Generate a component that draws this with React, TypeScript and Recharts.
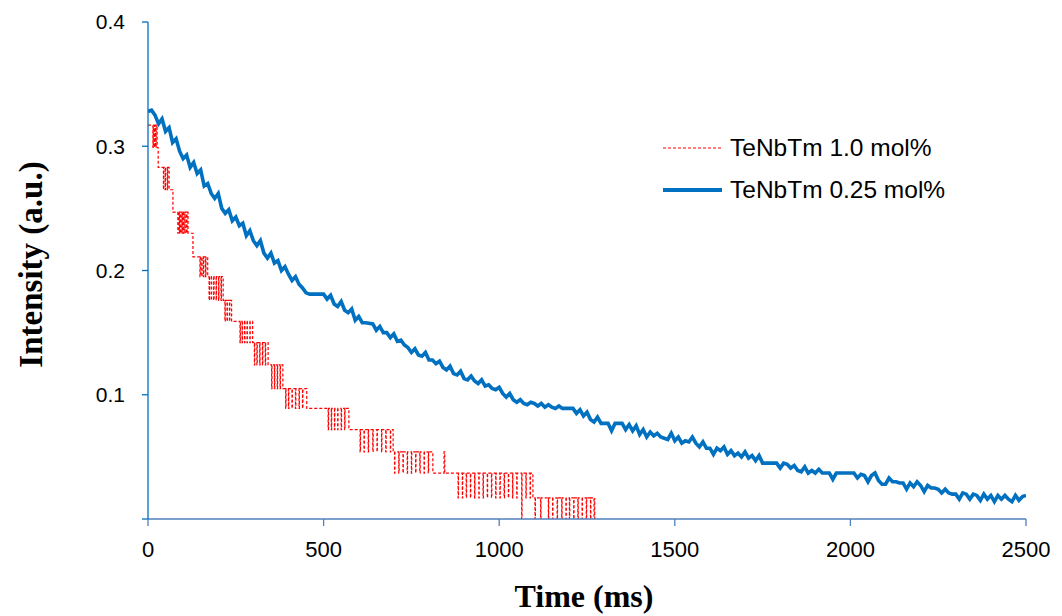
import React from 'react';
import { LineChart, Line, XAxis, YAxis, Label } from 'recharts';

// ---- Data (time in ms, intensity in a.u.) ----
const xTicks = [0, 500, 1000, 1500, 2000, 2500];
const yTicks = [0, 0.1, 0.2, 0.3, 0.4];

const seriesNames = ['TeNbTm 1.0 mol%', 'TeNbTm 0.25 mol%'];
const seriesColors = ['#FF0000', '#0070C0'];

// TeNbTm 1.0 mol% (stepwise, quantised signal)
const redSeries: [number, number][] = [
  [0, 0.317], [14, 0.299], [15, 0.317], [18, 0.299], [19, 0.317], [22, 0.299], [23, 0.317], [26, 0.299],
  [29, 0.283], [44, 0.265], [45, 0.283], [49, 0.265], [50, 0.283], [55, 0.265], [56, 0.283], [60, 0.265],
  [71, 0.247], [85, 0.23], [86, 0.247], [89, 0.23], [90, 0.247], [93, 0.23], [94, 0.247], [97, 0.23],
  [98, 0.247], [101, 0.23], [102, 0.247], [105, 0.23], [106, 0.247], [110, 0.23], [111, 0.247], [114, 0.23],
  [128, 0.211], [148, 0.195], [149, 0.211], [153, 0.195], [154, 0.211], [158, 0.195], [159, 0.211], [164, 0.195],
  [165, 0.211], [170, 0.195],
  [174, 0.176], [175, 0.195], [180, 0.176], [181, 0.195], [187, 0.176], [188, 0.195], [194, 0.176], [195, 0.195],
  [201, 0.176], [202, 0.195], [208, 0.176], [209, 0.195], [214, 0.176],
  [219, 0.159], [220, 0.176], [225, 0.159], [226, 0.176], [232, 0.159], [233, 0.176], [238, 0.159],
  [262, 0.142], [263, 0.159], [268, 0.142], [269, 0.159], [275, 0.142], [276, 0.159], [282, 0.142], [283, 0.159],
  [290, 0.142], [291, 0.159], [298, 0.142],
  [303, 0.124], [304, 0.142], [310, 0.124], [311, 0.142], [318, 0.124], [319, 0.142], [326, 0.124], [327, 0.142],
  [334, 0.124], [335, 0.142], [342, 0.124],
  [352, 0.105], [353, 0.124], [360, 0.105], [361, 0.124], [368, 0.105], [369, 0.124], [376, 0.105], [377, 0.124],
  [384, 0.105],
  [392, 0.089], [393, 0.105], [400, 0.089], [401, 0.105], [410, 0.089], [411, 0.105], [420, 0.089], [421, 0.105],
  [430, 0.089], [431, 0.105], [440, 0.089], [441, 0.105], [452, 0.089],
  [513, 0.072], [514, 0.089], [522, 0.072], [523, 0.089], [531, 0.072], [532, 0.089], [540, 0.072], [541, 0.089],
  [550, 0.072], [551, 0.089], [560, 0.072], [561, 0.089], [572, 0.072],
  [604, 0.054], [605, 0.072], [615, 0.054], [616, 0.072], [627, 0.054], [628, 0.072], [640, 0.054], [641, 0.072],
  [652, 0.054], [653, 0.072], [665, 0.054], [666, 0.072], [677, 0.054], [678, 0.072], [690, 0.054], [691, 0.072],
  [698, 0.054],
  [702, 0.037], [703, 0.054], [714, 0.037], [715, 0.054], [726, 0.037], [727, 0.054], [738, 0.037], [739, 0.054],
  [750, 0.037], [751, 0.054], [762, 0.037], [763, 0.054], [774, 0.037], [775, 0.054], [786, 0.037], [787, 0.054],
  [798, 0.037], [799, 0.054], [811, 0.037], [843, 0.054], [845, 0.037],
  [883, 0.017], [884, 0.037], [895, 0.017], [896, 0.037], [906, 0.017], [907, 0.037], [918, 0.017], [919, 0.037],
  [930, 0.017], [931, 0.037], [942, 0.017], [943, 0.037], [954, 0.017], [955, 0.037], [966, 0.017], [967, 0.037],
  [978, 0.017], [979, 0.037], [990, 0.017], [991, 0.037], [1002, 0.017], [1003, 0.037], [1014, 0.017], [1015, 0.037],
  [1026, 0.017], [1027, 0.037], [1038, 0.017], [1039, 0.037], [1050, 0.017], [1051, 0.037], [1064, 0], [1065, 0.037],
  [1076, 0.017], [1077, 0.037], [1088, 0.017], [1089, 0.037], [1096, 0.017],
  [1102, 0], [1103, 0.017], [1118, 0], [1119, 0.017], [1140, 0], [1141, 0.017], [1152, 0], [1153, 0.017],
  [1165, 0], [1166, 0.017], [1178, 0], [1179, 0.017], [1190, 0], [1191, 0.017], [1200, 0], [1201, 0.017],
  [1212, 0], [1213, 0.017], [1224, 0], [1225, 0.017], [1236, 0], [1237, 0.017], [1248, 0], [1249, 0.017],
  [1260, 0], [1261, 0.017], [1270, 0], [1272, 0.017],
];

// TeNbTm 0.25 mol% (noisy decay)
const blueSeries: [number, number][] = [
  [0, 0.328], [10, 0.329], [20, 0.325], [30, 0.318], [40, 0.322], [50, 0.312], [60, 0.315], [70, 0.303],
  [80, 0.306], [90, 0.296], [100, 0.29], [110, 0.293], [120, 0.283], [130, 0.287], [140, 0.278], [150, 0.281],
  [160, 0.268], [170, 0.27], [180, 0.262], [190, 0.258], [200, 0.262], [210, 0.25], [220, 0.246], [230, 0.249],
  [240, 0.24], [250, 0.243], [260, 0.236], [270, 0.238], [280, 0.228], [290, 0.232], [300, 0.224], [310, 0.22],
  [320, 0.224], [330, 0.214], [340, 0.21], [350, 0.214], [360, 0.206], [370, 0.208], [380, 0.2], [390, 0.203],
  [400, 0.197], [410, 0.192], [420, 0.195], [430, 0.189], [440, 0.186], [450, 0.182], [460, 0.181], [480, 0.181],
  [500, 0.181], [510, 0.177], [520, 0.18], [530, 0.173], [540, 0.171], [550, 0.175], [560, 0.168], [570, 0.166],
  [580, 0.169], [590, 0.16], [600, 0.163], [610, 0.158], [620, 0.158], [640, 0.157], [650, 0.152], [660, 0.155],
  [670, 0.15], [680, 0.15], [690, 0.146], [700, 0.149], [710, 0.143], [720, 0.144], [730, 0.14], [740, 0.138],
  [750, 0.134], [760, 0.137], [770, 0.132], [780, 0.131], [790, 0.134], [800, 0.128], [810, 0.128], [820, 0.125],
  [830, 0.127], [840, 0.122], [850, 0.12], [860, 0.123], [870, 0.117], [880, 0.116], [890, 0.119], [900, 0.113],
  [910, 0.112], [920, 0.115], [930, 0.111], [940, 0.109], [950, 0.112], [960, 0.107], [970, 0.108], [980, 0.105],
  [990, 0.104], [1000, 0.106], [1010, 0.101], [1020, 0.098], [1030, 0.101], [1040, 0.096], [1050, 0.094], [1060, 0.096],
  [1070, 0.093], [1080, 0.092], [1090, 0.094], [1100, 0.093], [1110, 0.091], [1120, 0.093], [1130, 0.09], [1140, 0.092],
  [1150, 0.09], [1160, 0.089], [1170, 0.091], [1180, 0.089], [1190, 0.089], [1200, 0.089], [1210, 0.089], [1220, 0.085],
  [1230, 0.088], [1240, 0.083], [1250, 0.086], [1260, 0.08], [1270, 0.078], [1280, 0.082], [1290, 0.077], [1300, 0.077],
  [1310, 0.077], [1320, 0.071], [1330, 0.077], [1340, 0.077], [1350, 0.077], [1360, 0.072], [1370, 0.076], [1380, 0.071],
  [1390, 0.075], [1400, 0.068], [1410, 0.072], [1420, 0.066], [1430, 0.07], [1440, 0.067], [1450, 0.069], [1460, 0.066],
  [1470, 0.065], [1480, 0.064], [1490, 0.069], [1500, 0.063], [1510, 0.066], [1520, 0.061], [1530, 0.063], [1540, 0.062],
  [1550, 0.066], [1560, 0.061], [1570, 0.058], [1580, 0.062], [1590, 0.057], [1600, 0.057], [1610, 0.052], [1620, 0.057],
  [1630, 0.055], [1640, 0.058], [1650, 0.052], [1660, 0.055], [1670, 0.051], [1680, 0.053], [1690, 0.05], [1700, 0.054],
  [1710, 0.049], [1720, 0.051], [1730, 0.047], [1740, 0.051], [1750, 0.045], [1760, 0.045], [1780, 0.045], [1790, 0.045],
  [1800, 0.041], [1810, 0.045], [1820, 0.044], [1830, 0.041], [1840, 0.043], [1850, 0.039], [1860, 0.038], [1870, 0.042],
  [1880, 0.037], [1890, 0.039], [1900, 0.037], [1910, 0.04], [1920, 0.037], [1930, 0.037], [1940, 0.037], [1950, 0.032],
  [1960, 0.037], [1980, 0.037], [2000, 0.037], [2010, 0.037], [2020, 0.033], [2030, 0.036], [2040, 0.035], [2050, 0.03],
  [2060, 0.035], [2070, 0.037], [2080, 0.031], [2090, 0.028], [2100, 0.028], [2110, 0.033], [2120, 0.03], [2130, 0.03],
  [2140, 0.029], [2150, 0.029], [2160, 0.024], [2170, 0.029], [2180, 0.026], [2190, 0.03], [2200, 0.027], [2210, 0.022],
  [2220, 0.027], [2230, 0.025], [2240, 0.025], [2250, 0.024], [2260, 0.021], [2270, 0.024], [2280, 0.021], [2290, 0.02],
  [2300, 0.02], [2310, 0.016], [2320, 0.021], [2330, 0.02], [2340, 0.016], [2350, 0.02], [2360, 0.019], [2370, 0.015],
  [2380, 0.02], [2390, 0.016], [2400, 0.019], [2410, 0.014], [2420, 0.019], [2430, 0.016], [2440, 0.019], [2450, 0.016],
  [2460, 0.014], [2470, 0.019], [2480, 0.015], [2490, 0.018], [2500, 0.019],
];

const redData = redSeries.map(([t, v]) => ({ t, v }));
const blueData = blueSeries.map(([t, v]) => ({ t, v }));

const SANS = '"Liberation Sans", Arial, sans-serif';
const SERIF = '"Liberation Serif", "Times New Roman", serif';

const LegendBox = () => (
  <div
    style={{
      position: 'absolute',
      left: 662,
      top: 127,
      fontFamily: SANS,
      fontSize: 24.5,
      color: '#000',
      lineHeight: 1,
    }}
  >
    {seriesNames.map((name, i) => (
      <div key={name} style={{ display: 'flex', alignItems: 'center', height: 42 }}>
        <svg width={62} height={10} style={{ marginRight: 6 }}>
          <line
            x1={1}
            y1={5}
            x2={60}
            y2={5}
            stroke={seriesColors[i]}
            strokeWidth={i === 0 ? 1.2 : 4}
            strokeDasharray={i === 0 ? '3 2' : undefined}
          />
        </svg>
        <span>{name}</span>
      </div>
    ))}
  </div>
);

const YTitle = (props: any) => {
  const vb = props.viewBox || { x: 0, y: 0, width: 0, height: 0 };
  const cx = vb.x + 31;
  const cy = vb.y + vb.height / 2 - 6;
  return (
    <text
      x={cx}
      y={cy}
      transform={`rotate(-90 ${cx} ${cy})`}
      textAnchor="middle"
      dominantBaseline="central"
      fontFamily={SERIF}
      fontWeight="bold"
      fontSize={33}
      fill="#000"
    >
      Intensity (a.u.)
    </text>
  );
};

const XTitle = (props: any) => {
  const vb = props.viewBox || { x: 0, y: 0, width: 0, height: 0 };
  const cx = vb.x + vb.width / 2 - 3;
  const cy = vb.y + 88;
  return (
    <text x={cx} y={cy} textAnchor="middle" fontFamily={SERIF} fontWeight="bold" fontSize={32} fill="#000">
      Time (ms)
    </text>
  );
};

export default function App() {
  return (
    <div style={{ position: 'absolute', left: 0, top: 0, width: 1062, height: 616, background: '#fff' }}>
      <LineChart width={1062} height={616} margin={{ top: 22, right: 36, bottom: 0, left: 0 }}>
        <XAxis
          type="number"
          dataKey="t"
          domain={[0, 2500]}
          ticks={xTicks}
          height={97}
          tickSize={7}
          tickMargin={15}
          allowDataOverflow
          axisLine={{ stroke: '#4F81BD', strokeWidth: 1.3 }}
          tickLine={{ stroke: '#4F81BD', strokeWidth: 1.3 }}
          tick={{ fontSize: 22, fill: '#000', fontFamily: SANS }}
        >
          <Label content={<XTitle />} />
        </XAxis>
        <YAxis
          type="number"
          dataKey="v"
          domain={[0, 0.4]}
          ticks={yTicks}
          width={148}
          tickSize={6}
          tickMargin={17}
          allowDataOverflow
          tickFormatter={(v: number) => (v === 0 ? '' : v.toFixed(1))}
          axisLine={{ stroke: '#0070C0', strokeWidth: 1.3 }}
          tickLine={{ stroke: '#0070C0', strokeWidth: 1.3 }}
          tick={{ fontSize: 21, fill: '#000', fontFamily: SANS }}
        >
          <Label content={<YTitle />} />
        </YAxis>
        <Line
          data={redData}
          dataKey="v"
          name={seriesNames[0]}
          type="stepAfter"
          stroke={seriesColors[0]}
          strokeWidth={1.2}
          strokeDasharray="3 2"
          dot={false}
          activeDot={false}
          isAnimationActive={false}
        />
        <Line
          data={blueData}
          dataKey="v"
          name={seriesNames[1]}
          type="linear"
          stroke={seriesColors[1]}
          strokeWidth={3.6}
          dot={false}
          activeDot={false}
          isAnimationActive={false}
        />
      </LineChart>
      <LegendBox />
    </div>
  );
}
